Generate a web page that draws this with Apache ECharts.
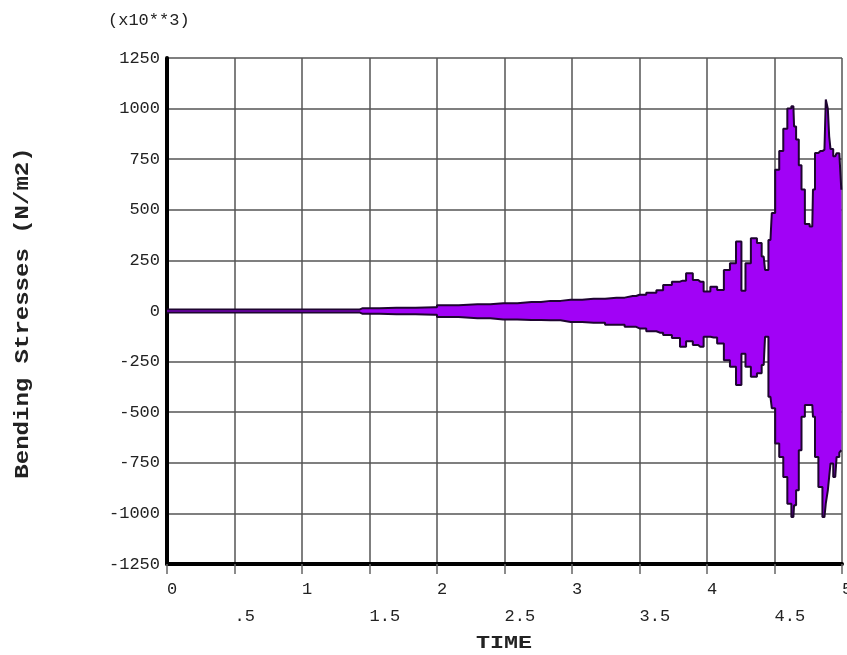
<!DOCTYPE html>
<html>
<head>
<meta charset="utf-8">
<script src="https://cdn.jsdelivr.net/npm/echarts@6/dist/echarts.min.js"></script>
<style>
  html, body { margin: 0; padding: 0; background: #fff; }
  #chart { width: 847px; height: 655px; }
</style>
</head>
<body>
<div id="chart"></div>
<script>
// Time history of bending stress: sample times (s) and the envelope of the
// response (upper and lower bound, in units of 10^3 N/m2).
const time = [
  0.00, 0.50, 1.00, 1.40, 1.45, 1.70, 1.98, 2.02, 2.30, 2.49,
  2.70, 2.84, 2.99, 3.16, 3.33, 3.45, 3.50, 3.60, 3.65, 3.70,
  3.78, 3.82, 3.87, 3.92, 3.95, 4.00, 4.05, 4.10, 4.15, 4.19,
  4.24, 4.27, 4.30, 4.35, 4.39, 4.42, 4.44, 4.47, 4.49, 4.52,
  4.55, 4.58, 4.61, 4.64, 4.65, 4.67, 4.69, 4.71, 4.74, 4.78,
  4.79, 4.81, 4.84, 4.87, 4.89, 4.90, 4.91, 4.92, 4.95, 4.97,
  4.99, 5.00
];
const upper = [
  7, 7, 7, 7, 14, 16, 18, 28, 33, 38,
  44, 50, 56, 60, 66, 74, 80, 90, 102, 129,
  145, 150, 187, 153, 145, 96, 120, 104, 203, 236,
  343, 100, 236, 360, 336, 269, 203, 351, 484, 698,
  790, 900, 1000, 1011, 912, 847, 720, 600, 430, 417,
  600, 781, 790, 797, 1045, 1000, 863, 800, 764, 780,
  789, 599
];
const lower = [
  -7, -7, -7, -7, -14, -16, -18, -30, -36, -42,
  -45, -46, -54, -58, -68, -78, -86, -100, -107, -119,
  -134, -177, -150, -168, -177, -127, -131, -160, -243, -276,
  -366, -211, -276, -325, -307, -267, -127, -424, -480, -655,
  -721, -820, -952, -1018, -960, -886, -688, -523, -465, -465,
  -523, -721, -870, -1018, -950, -886, -820, -753, -820, -721,
  -700, -688
];

const xTickLabels = ['0', '.5', '1', '1.5', '2', '2.5', '3', '3.5', '4', '4.5', '5'];
const yTickLabels = ['-1250', '-1000', '-750', '-500', '-250', '0', '250', '500', '750', '1000', '1250'];

const FILL = '#a102f6';
const EDGE = '#1e0530';
const MONO = '"Liberation Mono", "DejaVu Sans Mono", monospace';

function band(values) {
  return time.map((t, i) => [t, values[i]]);
}

const chart = echarts.init(document.getElementById('chart'), null, { renderer: 'canvas' });

const envelopeSeries = (name, values) => ({
  name: name,
  type: 'line',
  data: band(values),
  step: 'middle',
  showSymbol: false,
  symbol: 'none',
  lineStyle: { color: EDGE, width: 2 },
  areaStyle: { color: FILL, opacity: 1, origin: 0 },
  itemStyle: { color: FILL },
  animation: false,
  z: 3
});

chart.setOption({
  animation: false,
  backgroundColor: '#ffffff',
  grid: { left: 167, right: 5, top: 58, bottom: 91, containLabel: false, outerBoundsMode: 'none' },
  xAxis: {
    type: 'value',
    min: 0,
    max: 5,
    interval: 0.5,
    axisLine: { show: true, onZero: false, lineStyle: { color: '#000', width: 4 } },
    axisTick: { show: true, length: 10, lineStyle: { color: '#666', width: 1.5 } },
    splitLine: { show: true, lineStyle: { color: '#555', width: 1.5 } },
    axisLabel: {
      margin: 12,
      align: 'left',
      color: '#222',
      fontFamily: MONO,
      fontSize: 17,
      lineHeight: 27,
      showMinLabel: true,
      showMaxLabel: true,
      formatter: (v, i) => (i % 2 === 1 ? '\n' : '') + xTickLabels[i]
    }
  },
  yAxis: {
    type: 'value',
    min: -1250,
    max: 1250,
    interval: 250,
    axisLine: { show: true, onZero: false, lineStyle: { color: '#000', width: 4 } },
    axisTick: { show: false },
    splitLine: { show: true, lineStyle: { color: '#555', width: 1.5 } },
    axisLabel: {
      margin: 7,
      color: '#222',
      fontFamily: MONO,
      fontSize: 17,
      showMinLabel: true,
      showMaxLabel: true,
      formatter: (v, i) => yTickLabels[i]
    }
  },
  graphic: [
    {
      type: 'text',
      left: 108,
      top: 12,
      style: { text: '(x10**3)', font: '17px ' + MONO, fill: '#222' }
    },
    {
      type: 'text',
      x: 23,
      y: 313,
      rotation: Math.PI / 2,
      scaleX: 1.2,
      style: {
        text: 'Bending Stresses (N/m2)',
        font: 'bold 20px ' + MONO,
        fill: '#222',
        align: 'center',
        verticalAlign: 'middle'
      }
    },
    {
      type: 'text',
      x: 504,
      y: 643,
      scaleX: 1.3,
      style: {
        text: 'TIME',
        font: 'bold 18px ' + MONO,
        fill: '#222',
        align: 'center',
        verticalAlign: 'middle'
      }
    }
  ],
  series: [
    envelopeSeries('upper', upper),
    envelopeSeries('lower', lower)
  ]
});
</script>
</body>
</html>
